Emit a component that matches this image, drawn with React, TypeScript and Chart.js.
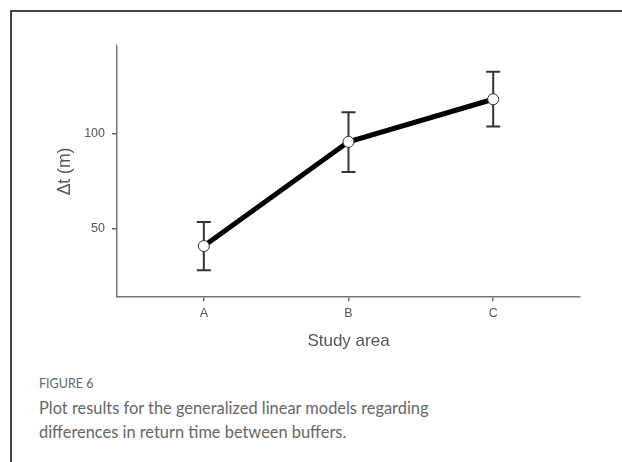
import React, { useEffect, useRef } from "react";
import { Chart, registerables } from "chart.js";

Chart.register(...registerables);

const categories = ["A", "B", "C"];
const meanValues = [40.8, 95.6, 118.0];
const lowerValues = [28.1, 79.8, 103.6];
const upperValues = [53.5, 111.2, 132.4];
const yTickValues = [50, 100];
const yRange = [14, 146];
const xRange = [-0.6, 2.6];

const yTitle = "Δt (m)";
const xTitle = "Study area";
const figureLabel = "FIGURE 6";
const captionText =
  "Plot results for the generalized linear models regarding differences in return time between buffers.";

const axisFont = "'Liberation Sans', Arial, sans-serif";

const errorBarPlugin = {
  id: "errorBars",
  beforeDatasetsDraw(chart: any) {
    const { ctx } = chart;
    const x = chart.scales.x;
    const y = chart.scales.y;
    ctx.save();
    ctx.strokeStyle = "#333";
    ctx.lineWidth = 2;
    categories.forEach((_, i) => {
      const px = x.getPixelForValue(i);
      const top = y.getPixelForValue(upperValues[i]);
      const bot = y.getPixelForValue(lowerValues[i]);
      ctx.beginPath();
      ctx.moveTo(px, top);
      ctx.lineTo(px, bot);
      ctx.moveTo(px - 7, top);
      ctx.lineTo(px + 7, top);
      ctx.moveTo(px - 7, bot);
      ctx.lineTo(px + 7, bot);
      ctx.stroke();
    });
    ctx.restore();
  },
};

export default function App() {
  const canvasRef = useRef<HTMLCanvasElement | null>(null);

  useEffect(() => {
    if (!canvasRef.current) return;
    const chart = new Chart(canvasRef.current, {
      type: "line",
      data: {
        datasets: [
          {
            data: meanValues.map((v, i) => ({ x: i, y: v })),
            borderColor: "#000",
            borderWidth: 5,
            tension: 0,
            pointRadius: 5.5,
            pointBackgroundColor: "#fff",
            pointBorderColor: "#333",
            pointBorderWidth: 1,
          },
        ],
      },
      options: {
        animation: false,
        responsive: false,
        maintainAspectRatio: false,
        layout: { padding: { left: 0, top: 46, right: 42, bottom: 0 } },
        plugins: { legend: { display: false }, tooltip: { enabled: false } },
        scales: {
          x: {
            type: "linear",
            min: xRange[0],
            max: xRange[1],
            afterBuildTicks: (s: any) => {
              s.ticks = categories.map((_, i) => ({ value: i }));
            },
            afterFit: (s: any) => {
              s.height = 60;
            },
            grid: {
              display: true,
              drawOnChartArea: false,
              drawTicks: true,
              tickLength: 4,
              color: "#666",
              lineWidth: 1.5,
            },
            border: { display: true, color: "#777", width: 1.5 },
            ticks: {
              color: "#555",
              font: { family: axisFont, size: 12.5 },
              padding: 5,
              maxRotation: 0,
              callback: (v: any) => categories[v as number] ?? "",
            },
            title: {
              display: true,
              text: xTitle,
              color: "#555",
              font: { family: axisFont, size: 17 },
              padding: { top: 0, bottom: 5 },
            },
          },
          y: {
            type: "linear",
            min: yRange[0],
            max: yRange[1],
            afterBuildTicks: (s: any) => {
              s.ticks = yTickValues.map((v) => ({ value: v }));
            },
            afterFit: (s: any) => {
              s.width = 117;
            },
            grid: {
              display: true,
              drawOnChartArea: false,
              drawTicks: true,
              tickLength: 5,
              color: "#666",
              lineWidth: 1.5,
            },
            border: { display: true, color: "#777", width: 1.5 },
            ticks: {
              color: "#555",
              font: { family: axisFont, size: 12.5 },
              padding: 7,
            },
            title: {
              display: true,
              text: yTitle,
              color: "#555",
              font: { family: axisFont, size: 17.5 },
              padding: { top: 55, bottom: 0 },
            },
          },
        },
      },
      plugins: [errorBarPlugin],
    });
    return () => chart.destroy();
  }, []);

  return (
    <div
      style={{
        position: "fixed",
        left: 0,
        top: 0,
        width: 622,
        height: 462,
        background: "#fff",
        overflow: "hidden",
      }}
    >
      <div
        style={{
          position: "absolute",
          left: 10,
          top: 10,
          width: 700,
          height: 600,
          borderTop: "2px solid #444",
          borderLeft: "2px solid #444",
        }}
      />
      <canvas
        ref={canvasRef}
        width={622}
        height={357}
        style={{ position: "absolute", left: 0, top: 0, width: 622, height: 357 }}
      />
      <div
        style={{
          position: "absolute",
          left: 39,
          top: 377,
          fontFamily: "Lato, 'Open Sans', sans-serif",
          fontSize: 12.5,
          lineHeight: "14px",
          color: "#666",
          whiteSpace: "nowrap",
        }}
      >
        {figureLabel}
      </div>
      <div
        style={{
          position: "absolute",
          left: 39,
          top: 396,
          width: 420,
          fontFamily: "Lato, 'Open Sans', sans-serif",
          fontSize: 16.4,
          lineHeight: "23.5px",
          color: "#666",
        }}
      >
        {captionText}
      </div>
    </div>
  );
}
